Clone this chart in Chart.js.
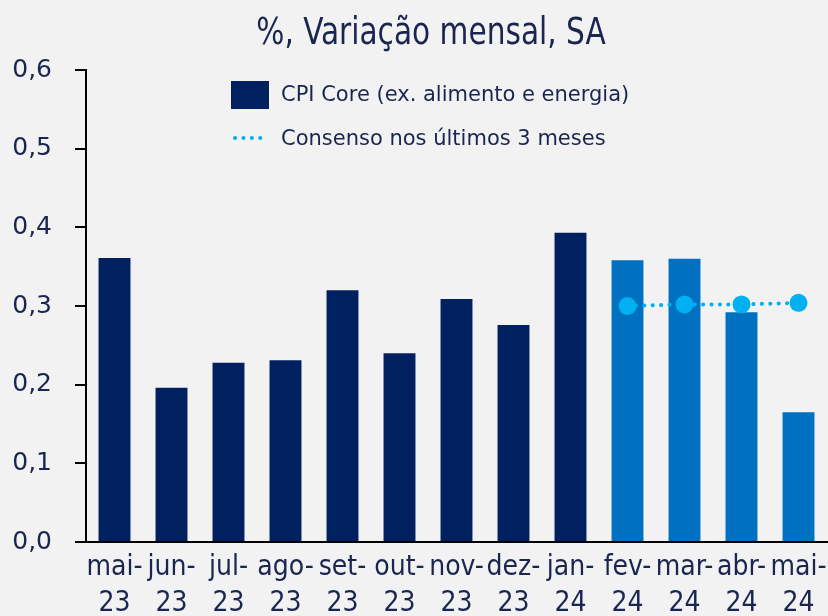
<!DOCTYPE html>
<html>
<head>
<meta charset="utf-8">
<script src="https://cdn.jsdelivr.net/npm/chart.js@4/dist/chart.umd.min.js"></script>
<style>
    html, body { margin: 0; padding: 0; background: #F2F2F2; }
    #wrap { width: 828px; height: 616px; }
</style>
</head>
<body>
<div id="wrap"><canvas id="chart" width="828" height="616"></canvas></div>
<script>
// dados
const meses = [['mai-', '23'], ['jun-', '23'], ['jul-', '23'], ['ago-', '23'], ['set-', '23'], ['out-', '23'],
    ['nov-', '23'], ['dez-', '23'], ['jan-', '24'], ['fev-', '24'], ['mar-', '24'], ['abr-', '24'], ['mai-', '24']];
const cpiCore = [0.361, 0.196, 0.228, 0.231, 0.320, 0.240, 0.309, 0.276, 0.393, 0.358, 0.360, 0.292, 0.165];
const consenso = [null, null, null, null, null, null, null, null, null, 0.300, 0.302, 0.302, 0.304];
const yTicks = [0, 0.1, 0.2, 0.3, 0.4, 0.5, 0.6];

const titulo = '%, Variação mensal, SA';
const legendaBarra = 'CPI Core (ex. alimento e energia)';
const legendaLinha = 'Consenso nos últimos 3 meses';

const corEscura = '#002060';
const corClara = '#0070C0';
const corConsenso = '#00B0F0';
const corTexto = '#1A2550';
const fonteNarrow = '"DejaVu Sans Condensed", "DejaVu Sans", sans-serif';
const fonteSans = '"DejaVu Sans", sans-serif';

// cores das barras: ultimos 4 meses em azul claro
const coresBarras = cpiCore.map(function (v, i) {
    return i >= 9 ? corClara : corEscura;
});

// fundo, titulo e legenda desenhados a mao
const extras = {
    id: 'extras',
    beforeDraw: function (chart) {
        const ctx = chart.ctx;
        ctx.save();
        ctx.fillStyle = '#F2F2F2';
        ctx.fillRect(0, 0, chart.width, chart.height);
        ctx.restore();
    },
    afterDraw: function (chart) {
        const ctx = chart.ctx;
        const area = chart.chartArea;
        ctx.save();
        // titulo (condensado na horizontal)
        ctx.fillStyle = corTexto;
        ctx.font = '37px ' + fonteNarrow;
        ctx.textAlign = 'center';
        ctx.textBaseline = 'middle';
        ctx.save();
        ctx.translate(431, 34);
        ctx.scale(0.89, 1);
        ctx.fillText(titulo, 0, 0);
        ctx.restore();

        // legenda
        const lx = area.left + 145;
        const ly = area.top + 11;
        ctx.fillStyle = corEscura;
        ctx.fillRect(lx, ly, 38, 28);
        ctx.fillStyle = corTexto;
        ctx.font = '21px ' + fonteSans;
        ctx.textAlign = 'left';
        ctx.fillText(legendaBarra, lx + 50, ly + 15);

        ctx.strokeStyle = corConsenso;
        ctx.lineWidth = 4;
        ctx.lineCap = 'round';
        ctx.setLineDash([0.1, 8.3]);
        ctx.beginPath();
        ctx.moveTo(lx + 4, ly + 57);
        ctx.lineTo(lx + 30, ly + 57);
        ctx.stroke();
        ctx.setLineDash([]);
        ctx.fillStyle = corTexto;
        ctx.fillText(legendaLinha, lx + 50, ly + 59);
        ctx.restore();
    }
};

const ctx = document.getElementById('chart').getContext('2d');
const chart = new Chart(ctx, {
    type: 'bar',
    data: {
        labels: meses,
        datasets: [
            {
                type: 'line',
                label: legendaLinha,
                data: consenso,
                borderColor: corConsenso,
                backgroundColor: corConsenso,
                borderWidth: 4,
                borderDash: [0.1, 8.3],
                borderCapStyle: 'round',
                pointRadius: 9,
                pointBackgroundColor: corConsenso,
                pointBorderWidth: 0,
                fill: false,
                order: 0
            },
            {
                label: legendaBarra,
                data: cpiCore,
                backgroundColor: coresBarras,
                borderWidth: 0,
                categoryPercentage: 1,
                barPercentage: 0.56,
                order: 1
            }
        ]
    },
    options: {
        responsive: false,
        animation: false,
        layout: { autoPadding: false, padding: { top: 70, right: 1, left: 0, bottom: 0 } },
        plugins: {
            legend: { display: false },
            title: { display: false },
            tooltip: { enabled: false }
        },
        scales: {
            x: {
                afterFit: function (scale) {
                    scale.paddingLeft = 0;
                    scale.paddingRight = 0;
                    scale.height = 74;
                },
                grid: { display: false, drawTicks: false },
                border: { display: true, color: '#000000', width: 2 },
                ticks: {
                    color: corTexto,
                    font: { family: fonteNarrow, size: 28, lineHeight: 1.29 },
                    padding: 8,
                    maxRotation: 0,
                    autoSkip: false
                }
            },
            y: {
                min: 0,
                max: 0.6,
                afterFit: function (scale) { scale.width = 86; },
                afterBuildTicks: function (scale) {
                    scale.ticks = yTicks.map(function (v) { return { value: v }; });
                },
                grid: {
                    drawOnChartArea: false,
                    drawTicks: true,
                    tickLength: 11,
                    color: '#000000',
                    lineWidth: 2
                },
                border: { display: true, color: '#000000', width: 2 },
                ticks: {
                    color: corTexto,
                    font: { family: fonteSans, size: 25 },
                    padding: 23,
                    callback: function (v) {
                        return Number(v).toFixed(1).replace('.', ',');
                    }
                }
            }
        }
    },
    plugins: [extras]
});
</script>
</body>
</html>
